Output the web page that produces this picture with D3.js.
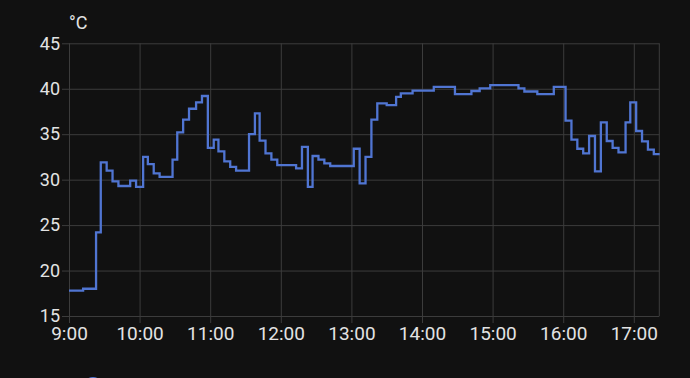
<!DOCTYPE html>
<html>
<head>
<meta charset="utf-8">
<script src="https://cdn.jsdelivr.net/npm/d3@7/dist/d3.min.js"></script>
<style>
  html, body { margin: 0; padding: 0; background: #111111; }
  svg { display: block; }
  text { font-family: Roboto, "Noto Sans", sans-serif; fill: #e3e3e3; }
</style>
</head>
<body>
<svg id="chart" width="690" height="378"></svg>
<script>
// ---- data ----
const times = ["09:00","09:12","09:23","09:27","09:32","09:37","09:42","09:52","09:57","10:03",
  "10:07","10:12","10:17","10:28","10:32","10:37","10:42","10:48","10:53","10:58",
  "11:03","11:07","11:12","11:17","11:22","11:33","11:38","11:42","11:47","11:52",
  "11:57","12:13","12:18","12:23","12:27","12:32","12:37","12:42","13:02","13:07",
  "13:12","13:17","13:22","13:30","13:38","13:42","13:52","14:10","14:28","14:42",
  "14:49","14:58","15:22","15:27","15:38","15:52","16:02","16:07","16:12","16:17",
  "16:22","16:27","16:32","16:37","16:42","16:47","16:53","16:57","17:02","17:07",
  "17:12","17:17","17:22"];
const temps = [17.8,18.0,24.2,31.9,31.0,29.8,29.3,29.9,29.2,32.5,
  31.7,30.7,30.3,32.2,35.2,36.6,37.8,38.5,39.2,33.5,
  34.4,33.1,32.0,31.4,31.0,35.0,37.3,34.3,32.9,32.2,
  31.6,31.25,33.6,29.2,32.6,32.2,31.8,31.5,33.4,29.6,
  32.5,36.6,38.4,38.2,39.1,39.5,39.8,40.2,39.4,39.75,
  40.05,40.4,40.05,39.7,39.4,40.2,36.5,34.4,33.4,32.9,
  34.8,30.9,36.3,34.25,33.5,33.0,36.3,38.5,35.35,34.2,
  33.3,32.8,32.8];
const yTicks = [15, 20, 25, 30, 35, 40, 45];
const xTickLabels = ["9:00","10:00","11:00","12:00","13:00","14:00","15:00","16:00","17:00"];
const unitLabel = "°C";
const xStart = "09:00", xEnd = "17:21:40";

// ---- layout ----
const pLeft = 69, pRight = 659.3, pTop = 43.3, pBottom = 316;
const lineColor = "#5075d2";
const gridColor = "#3c3c3c";

const parseT = s => {
  const p = s.split(":").map(Number);
  return new Date(2024, 0, 1, p[0], p[1], p[2] || 0);
};
const data = times.map((t, i) => ({ t: parseT(t), v: temps[i] }));

const svg = d3.select("#chart");

const x = d3.scaleTime().domain([parseT(xStart), parseT(xEnd)]).range([pLeft, pRight]);
const y = d3.scaleLinear().domain([15, 45]).range([pBottom, pTop]);

const tickDates = xTickLabels.map(l => parseT(l));

// horizontal grid + left ticks
const yAxis = d3.axisLeft(y).tickValues(yTicks).tickSize(7).tickPadding(2).tickFormat(d3.format("d"));
const gy = svg.append("g").attr("transform", `translate(${pLeft},0)`).call(yAxis);
gy.select(".domain").remove();
gy.selectAll(".tick line").attr("stroke", gridColor);
gy.selectAll(".tick").append("line")
  .attr("x1", 0).attr("x2", pRight - pLeft).attr("stroke", gridColor);
gy.selectAll(".tick text").attr("font-size", 18).attr("fill", "#e6e6e6");

// vertical grid + bottom ticks
const xAxis = d3.axisBottom(x).tickValues(tickDates).tickSize(7).tickPadding(4)
  .tickFormat((d, i) => xTickLabels[i]);
const gx = svg.append("g").attr("transform", `translate(0,${pBottom})`).call(xAxis);
gx.select(".domain").remove();
gx.selectAll(".tick line").attr("stroke", gridColor);
gx.selectAll(".tick").append("line")
  .attr("y1", 0).attr("y2", pTop - pBottom).attr("stroke", gridColor);
gx.selectAll(".tick text").attr("font-size", 19).attr("fill", "#e6e6e6");

// right border
svg.append("line").attr("x1", pRight).attr("x2", pRight).attr("y1", pTop).attr("y2", pBottom)
  .attr("stroke", gridColor);

// unit label
svg.append("text").attr("x", pLeft).attr("y", 29).attr("font-size", 18).attr("fill", "#e6e6e6").text(unitLabel);

// step line
const line = d3.line().x(d => x(d.t)).y(d => y(d.v)).curve(d3.curveStepAfter);
svg.append("path").datum(data).attr("d", line)
  .attr("fill", "none").attr("stroke", lineColor).attr("stroke-width", 2.3)
  .attr("stroke-linejoin", "miter");

// legend marker (cut off at bottom)
svg.append("circle").attr("cx", 93).attr("cy", 387).attr("r", 10)
  .attr("fill", lineColor);
</script>
</body>
</html>
